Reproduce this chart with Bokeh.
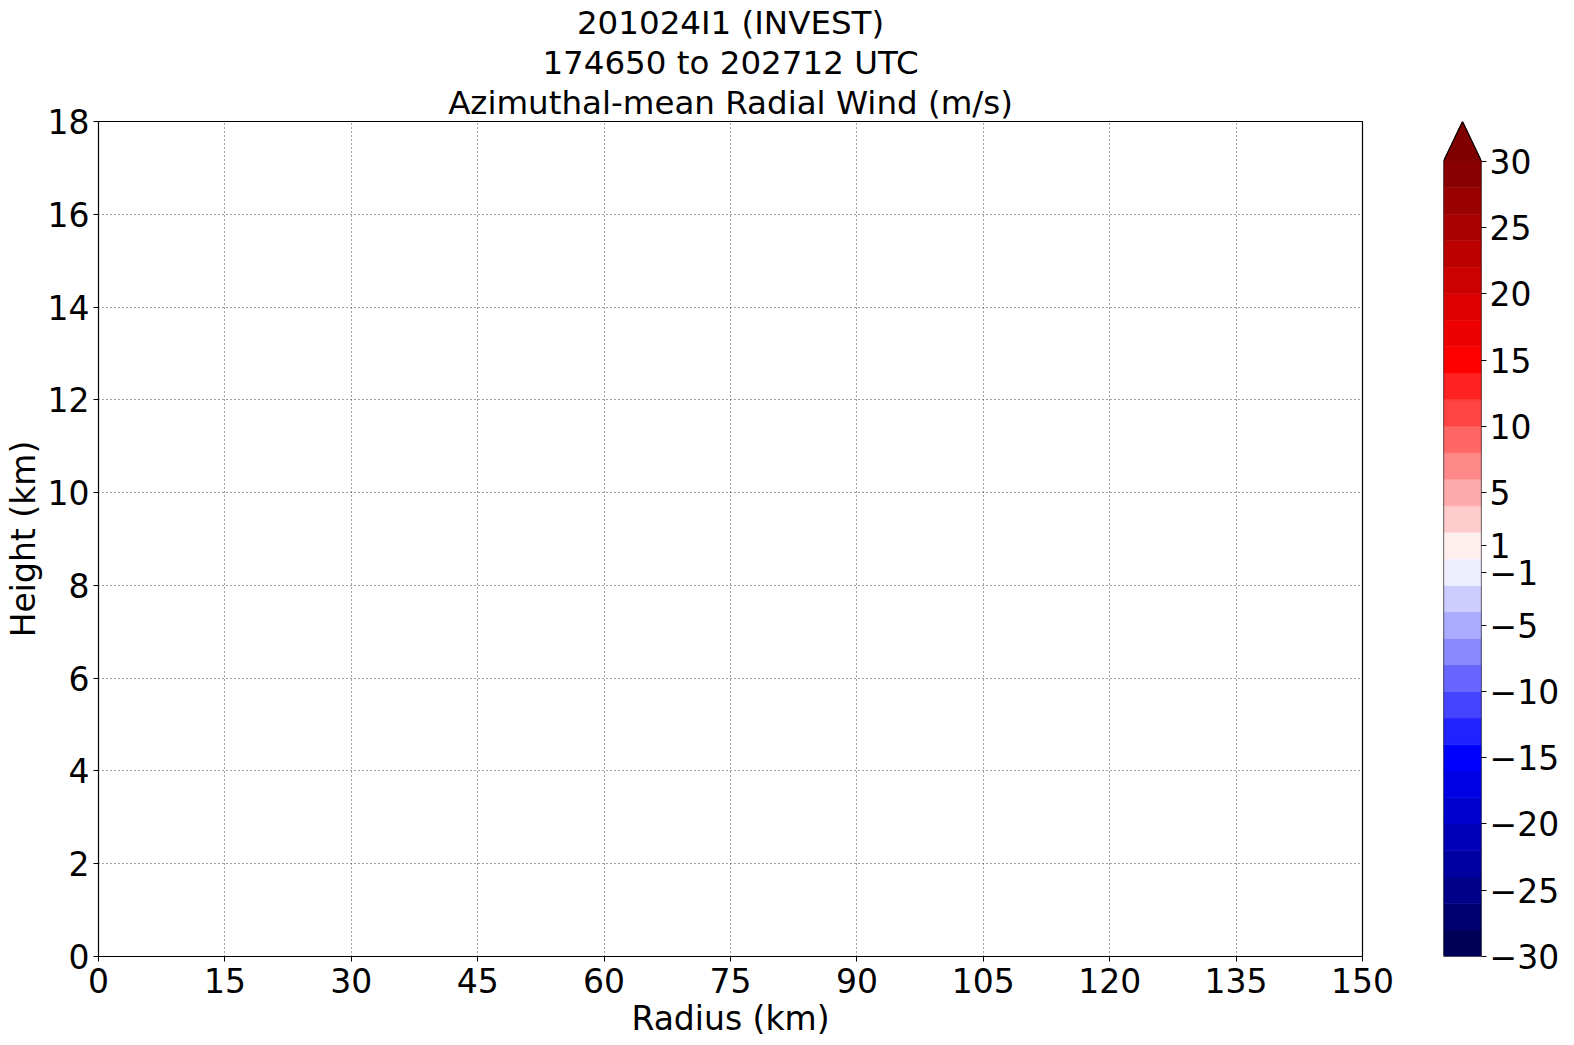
from bokeh.plotting import figure
from bokeh.models import Range1d, FixedTicker, Title, ColumnDataSource
from bokeh.layouts import row
from bokeh.embed import file_html
from bokeh.resources import INLINE

# ---- data ----
title_lines = ["201024I1 (INVEST)", "174650 to 202712 UTC", "Azimuthal-mean Radial Wind (m/s)"]
x_ticks = [0, 15, 30, 45, 60, 75, 90, 105, 120, 135, 150]
y_ticks = [0, 2, 4, 6, 8, 10, 12, 14, 16, 18]
levels = list(range(-30, 32, 2))
level_colors = [
    "#000058", "#000070", "#000088", "#0000a0", "#0000b8", "#0000cf", "#0000e7", "#0000ff",
    "#2222ff", "#4444ff", "#6666ff", "#8888ff", "#aaaaff", "#ccccff", "#eeeeff",
    "#ffeeee", "#ffcccc", "#ffaaaa", "#ff8888", "#ff6666", "#ff4444", "#ff2222", "#ff0000",
    "#ee0000", "#dd0000", "#cc0000", "#bb0000", "#aa0000", "#990000", "#880000",
]
over_color = "#800000"
cbar_ticks = [-30, -25, -20, -15, -10, -5, -1, 1, 5, 10, 15, 20, 25, 30]
cbar_tick_labels = ["−30", "−25", "−20", "−15", "−10", "−5", "−1", "1", "5", "10", "15", "20", "25", "30"]

FONT = "DejaVu Sans"
FS = "33px"
TFS = "32.5px"
H = 1040
TOP = 121
BOTTOM = H - 957

# ---- main figure ----
p = figure(width=1410, height=H, output_backend="svg", toolbar_location=None,
           x_range=Range1d(0, 150), y_range=Range1d(0, 18),
           min_border_left=96, min_border_right=48, min_border_top=TOP, min_border_bottom=BOTTOM)
p.outline_line_color = "black"
p.outline_line_width = 1.2
p.background_fill_color = "white"
p.border_fill_color = "white"

for ax in (p.xaxis[0], p.yaxis[0]):
    ax.major_label_text_font = FONT
    ax.major_label_text_font_size = FS
    ax.major_label_text_color = "black"
    ax.axis_label_text_font = FONT
    ax.axis_label_text_font_size = FS
    ax.axis_label_text_font_style = "normal"
    ax.axis_label_text_color = "black"
    ax.major_tick_in = 0
    ax.major_tick_out = 5
    ax.minor_tick_out = 0
    ax.minor_tick_in = 0
    ax.axis_line_color = "black"
    ax.major_tick_line_color = "black"
    ax.major_label_standoff = 4
    ax.axis_label_standoff = 2

p.xaxis[0].ticker = FixedTicker(ticks=x_ticks)
p.yaxis[0].ticker = FixedTicker(ticks=y_ticks)
p.xaxis[0].axis_label = "Radius (km)"
p.yaxis[0].axis_label = "Height (km)"
p.xaxis[0].major_label_standoff = 6
p.xaxis[0].axis_label_standoff = 3

p.xgrid.ticker = FixedTicker(ticks=x_ticks)
p.ygrid.ticker = FixedTicker(ticks=y_ticks)
for g in (p.xgrid[0], p.ygrid[0]):
    g.grid_line_color = "#444444"
    g.grid_line_dash = "1 3"
    g.grid_line_width = 1

# titles: later-added titles sit further from the frame
for txt in reversed(title_lines):
    p.add_layout(Title(text=txt, align="center", text_font=FONT, text_font_size=TFS,
                       text_font_style="normal", text_color="black", standoff=0), "above")

# ---- colorbar figure ----
cb = figure(width=152, height=H, output_backend="svg", toolbar_location=None,
            x_range=Range1d(0, 1), y_range=Range1d(-30, 33),
            x_axis_location=None, y_axis_location="right",
            min_border_left=33, min_border_right=80, min_border_top=TOP, min_border_bottom=BOTTOM)
cb.outline_line_color = None
cb.xgrid.visible = False
cb.ygrid.visible = False
cb.border_fill_color = "white"

src = ColumnDataSource(dict(bottom=levels[:-1], top=levels[1:], color=level_colors))
cb.quad(left=0, right=1, bottom="bottom", top="top", fill_color="color", line_color="color",
        line_width=0.5, source=src)
cb.patch([0, 1, 0.5], [levels[-1], levels[-1], 33], fill_color=over_color, line_color=over_color)
cb.line([0, 1, 1, 0.5, 0, 0], [levels[0], levels[0], levels[-1], 33, levels[-1], levels[0]],
        line_color="black", line_width=1.2)

ya = cb.yaxis[0]
ya.ticker = FixedTicker(ticks=cbar_ticks)
ya.major_label_overrides = {t: l for t, l in zip(cbar_ticks, cbar_tick_labels)}
ya.major_label_text_font = FONT
ya.major_label_text_font_size = FS
ya.major_label_text_color = "black"
ya.major_tick_in = 0
ya.major_tick_out = 5
ya.major_tick_line_color = "black"
ya.minor_tick_in = 0
ya.minor_tick_out = 0
ya.axis_line_color = None
ya.major_label_standoff = 3

layout = row(p, cb)
open("out.html", "w").write(file_html(layout, INLINE))
